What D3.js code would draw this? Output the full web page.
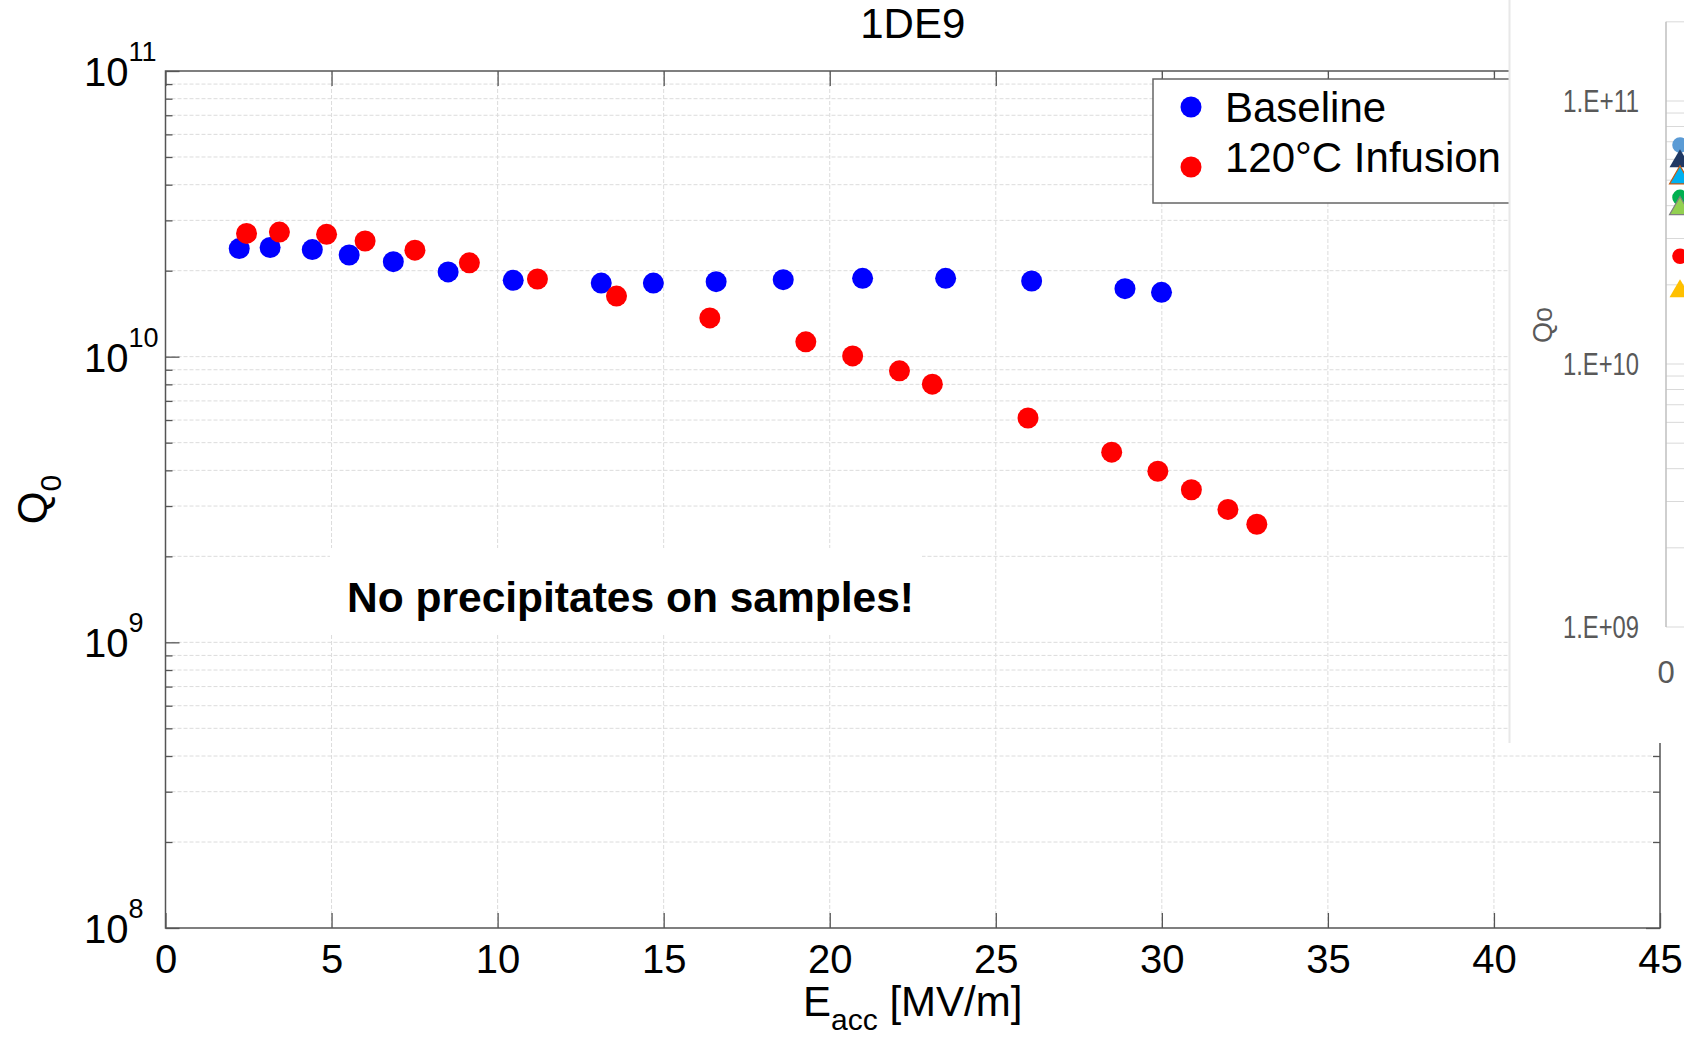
<!DOCTYPE html>
<html><head><meta charset="utf-8">
<script src="https://cdn.jsdelivr.net/npm/d3@7/dist/d3.min.js"></script>
<style>
html,body{margin:0;padding:0;background:#fff;}
svg{display:block;}
text{font-family:"Liberation Sans",Arial,Helvetica,sans-serif;}
</style></head>
<body>
<script>
// ---------- data ----------
const chartTitle = "1DE9";
const seriesNames = ["Baseline", "120°C Infusion"];
const seriesColors = ["#0000ff", "#ff0000"];
const baselineE = [2.22, 3.15, 4.42, 5.53, 6.86, 8.51, 10.47, 13.12, 14.69, 16.58, 18.6, 20.99, 23.49, 26.08, 28.89, 29.99];
const baselineQ = [2.39e10, 2.41e10, 2.37e10, 2.27e10, 2.15e10, 1.98e10, 1.85e10, 1.81e10, 1.81e10, 1.83e10, 1.86e10, 1.88e10, 1.88e10, 1.84e10, 1.73e10, 1.68e10];
const infusionE = [2.44, 3.43, 4.85, 6.01, 7.51, 9.15, 11.2, 13.58, 16.39, 19.28, 20.69, 22.1, 23.09, 25.97, 28.49, 29.88, 30.89, 31.99, 32.86];
const infusionQ = [2.70e10, 2.73e10, 2.68e10, 2.54e10, 2.36e10, 2.13e10, 1.87e10, 1.63e10, 1.367e10, 1.127e10, 1.006e10, 8.92e9, 8.01e9, 6.1e9, 4.63e9, 3.97e9, 3.42e9, 2.92e9, 2.59e9];
const xTicks = [0, 5, 10, 15, 20, 25, 30, 35, 40, 45];
const yMajorExp = [8, 9, 10, 11];
const annotation = "No precipitates on samples!";
// inset fragment (pasted Excel chart, cut at right edge)
const insetTickLabels = ["1.E+11", "1.E+10", "1.E+09"];
const insetTickValues = [1e11, 1e10, 1e9];
const insetXLabel = "0";
const insetYLabel = "Qo";
const insetE = [0.5, 0.5, 0.5, 0.5, 0.5, 0.5, 0.5];
const insetQ = [6.8e10, 5.9e10, 5.1e10, 4.3e10, 3.9e10, 2.57e10, 1.89e10];
const insetShapes = ["circle", "triangle", "triangle", "circle", "triangle", "circle", "triangle"];
const insetColors = ["#5b9bd5", "#1f3864", "#00b0f0", "#00b050", "#92d050", "#ff0000", "#ffc000"];
const insetStrokes = ["none", "none", "#c55a11", "none", "#7f7f7f", "none", "none"];

// ---------- layout ----------
const W = 1684, H = 1037;
const L = 165.5, R = 1660, T = 71, B = 928;
const svg = d3.select("body").append("svg").attr("width", W).attr("height", H);
const xs = d3.scaleLinear().domain([0, 45]).range([L, R]);
const ys = d3.scaleLog().domain([1e8, 1e11]).range([B, T]);

const minorVals = [];
[8, 9, 10].forEach(e => { for (let k = 2; k <= 9; k++) minorVals.push(k * Math.pow(10, e)); });
const majorVals = yMajorExp.map(e => Math.pow(10, e));

// grid
const grid = svg.append("g").attr("stroke", "#dcdcdc").attr("stroke-width", 1).attr("stroke-dasharray", "4,2");
grid.selectAll("line.gx").data(xTicks.filter(v => v > 0 && v < 45)).join("line")
  .attr("x1", d => xs(d)).attr("x2", d => xs(d)).attr("y1", T).attr("y2", B);
grid.selectAll("line.gy").data(minorVals.concat([1e9, 1e10])).join("line")
  .attr("x1", L).attr("x2", R).attr("y1", d => ys(d)).attr("y2", d => ys(d));

// annotation with white background
const ann = svg.append("g");
ann.append("rect").attr("x", 330).attr("y", 548).attr("width", 592).attr("height", 86).attr("fill", "#fff");
ann.append("text").attr("x", 347).attr("y", 612).attr("font-size", 42).attr("font-weight", "bold")
  .attr("textLength", 567).attr("lengthAdjust", "spacingAndGlyphs")
  .attr("fill", "#000").text(annotation);

// data
const pts = svg.append("g");
pts.selectAll("circle.b").data(baselineE.map((e, i) => [e, baselineQ[i]])).join("circle")
  .attr("cx", d => xs(d[0])).attr("cy", d => ys(d[1])).attr("r", 10.5).attr("fill", seriesColors[0]);
pts.selectAll("circle.r").data(infusionE.map((e, i) => [e, infusionQ[i]])).join("circle")
  .attr("cx", d => xs(d[0])).attr("cy", d => ys(d[1])).attr("r", 10.5).attr("fill", seriesColors[1]);

// axes
const axCol = "#555";
function styleAxis(g) { g.select(".domain").remove(); g.selectAll(".tick line").attr("stroke", axCol).attr("stroke-width", 1.3); }
svg.append("g").attr("transform", `translate(0,${B})`)
  .call(d3.axisBottom(xs).tickValues(xTicks).tickSize(-15).tickSizeOuter(0).tickPadding(17).tickFormat(d3.format("d")))
  .call(styleAxis)
  .call(g => g.selectAll("text").attr("font-size", 40).attr("fill", "#000").attr("font-family", "Liberation Sans, Arial"));
svg.append("g").attr("transform", `translate(0,${T})`)
  .call(d3.axisTop(xs).tickValues(xTicks).tickSize(-15).tickSizeOuter(0).tickFormat(""))
  .call(styleAxis);
svg.append("g").attr("transform", `translate(${L},0)`)
  .call(d3.axisLeft(ys).tickValues(majorVals).tickSize(-14).tickSizeOuter(0).tickFormat(""))
  .call(styleAxis);
svg.append("g").attr("transform", `translate(${L},0)`)
  .call(d3.axisLeft(ys).tickValues(minorVals).tickSize(-7).tickSizeOuter(0).tickFormat(""))
  .call(styleAxis);
svg.append("g").attr("transform", `translate(${R},0)`)
  .call(d3.axisRight(ys).tickValues(majorVals).tickSize(-14).tickSizeOuter(0).tickFormat(""))
  .call(styleAxis);
svg.append("g").attr("transform", `translate(${R},0)`)
  .call(d3.axisRight(ys).tickValues(minorVals).tickSize(-7).tickSizeOuter(0).tickFormat(""))
  .call(styleAxis);
svg.append("rect").attr("x", L).attr("y", T).attr("width", R - L).attr("height", B - T)
  .attr("fill", "none").attr("stroke", axCol).attr("stroke-width", 1.5);

// y tick labels 10^n
const yl = svg.append("g").selectAll("text").data(yMajorExp).join("text")
  .attr("x", 84).attr("y", d => ys(Math.pow(10, d)) + 15).attr("fill", "#000");
yl.append("tspan").attr("font-size", 40).text("10");
yl.append("tspan").attr("font-size", 27).attr("dy", -25).text(d => d);

// title
svg.append("text").attr("x", (L + R) / 2).attr("y", 38).attr("text-anchor", "middle")
  .attr("font-size", 42).text(chartTitle);

// x label
const xl = svg.append("text").attr("x", (L + R) / 2).attr("y", 1016).attr("text-anchor", "middle").attr("font-size", 42);
xl.append("tspan").text("E");
xl.append("tspan").attr("font-size", 30).attr("dy", 14).text("acc");
xl.append("tspan").attr("dy", -14).text(" [MV/m]");

// y label
const ylab = svg.append("text").attr("transform", `translate(47,${(T + B) / 2}) rotate(-90)`)
  .attr("text-anchor", "middle").attr("font-size", 42);
ylab.append("tspan").text("Q");
ylab.append("tspan").attr("font-size", 30).attr("dy", 14).text("0");

// legend
const lg = svg.append("g");
lg.append("rect").attr("x", 1153).attr("y", 79).attr("width", 400).attr("height", 124)
  .attr("fill", "#fff").attr("stroke", "#666").attr("stroke-width", 1.5);
const legY = [107, 167], legTY = [122, 172];
seriesNames.forEach((n, i) => {
  lg.append("circle").attr("cx", 1191).attr("cy", legY[i]).attr("r", 10.5).attr("fill", seriesColors[i]);
  lg.append("text").attr("x", 1225).attr("y", legTY[i]).attr("font-size", 42).text(n);
});

// ---------- inset (pasted Excel fragment) ----------
const ins = svg.append("g");
ins.append("rect").attr("x", 1509).attr("y", 0).attr("width", W - 1509).attr("height", 743).attr("fill", "#fff");
ins.append("line").attr("x1", 1509.5).attr("x2", 1509.5).attr("y1", 0).attr("y2", 743).attr("stroke", "#e8e8e8").attr("stroke-width", 2);
const yIn = d3.scaleLog().domain([1e9, 1e11]).range([627, 101]);
const xIn = d3.scaleLinear().domain([0, 1]).range([1666, 1694]);
const inGrid = [];
[9, 10].forEach(e => { for (let k = 1; k <= 9; k++) inGrid.push(k * Math.pow(10, e)); });
inGrid.push(1e11, 2e11);
ins.selectAll("line.ig").data(inGrid).join("line")
  .attr("x1", xIn(0)).attr("x2", W).attr("y1", d => yIn(d)).attr("y2", d => yIn(d))
  .attr("stroke", "#d9d9d9").attr("stroke-width", 1);
ins.append("line").attr("x1", xIn(0)).attr("x2", xIn(0)).attr("y1", yIn(2e11)).attr("y2", yIn(1e9))
  .attr("stroke", "#bfbfbf").attr("stroke-width", 1.5);
ins.selectAll("text.it").data(insetTickValues).join("text")
  .attr("x", 1639).attr("y", d => yIn(d)).attr("dy", "0.36em").attr("text-anchor", "end")
  .attr("font-family", "Lato, 'Open Sans', sans-serif").attr("font-size", 31).attr("fill", "#595959")
  .attr("textLength", 76).attr("lengthAdjust", "spacingAndGlyphs")
  .text((d, i) => insetTickLabels[i]);
ins.append("text").attr("x", xIn(0)).attr("y", 683).attr("text-anchor", "middle")
  .attr("font-family", "Lato, 'Open Sans', sans-serif").attr("font-size", 31).attr("fill", "#595959").text(insetXLabel);
ins.append("text").attr("transform", "translate(1552,325) rotate(-90)").attr("text-anchor", "middle")
  .attr("font-family", "Lato, 'Open Sans', sans-serif").attr("font-size", 27).attr("fill", "#595959").text(insetYLabel);
const sym = { circle: d3.symbol().type(d3.symbolCircle).size(190), triangle: d3.symbol().type(d3.symbolTriangle).size(190) };
ins.selectAll("path.im").data(insetE.map((e, i) => i)).join("path")
  .attr("transform", i => `translate(${xIn(insetE[i])},${yIn(insetQ[i])})`)
  .attr("d", i => sym[insetShapes[i]]())
  .attr("fill", i => insetColors[i]).attr("stroke", i => insetStrokes[i]).attr("stroke-width", 1.2);
</script>
</body></html>
